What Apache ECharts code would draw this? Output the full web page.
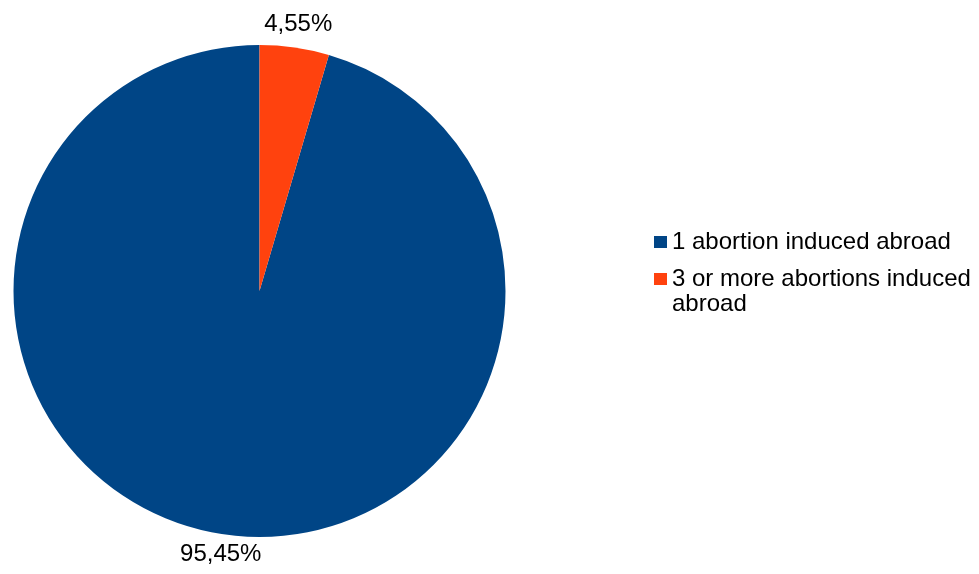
<!DOCTYPE html>
<html>
<head>
<meta charset="utf-8">
<title>Abortions induced abroad</title>
<script src="https://cdn.jsdelivr.net/npm/echarts@6/dist/echarts.min.js"></script>
<style>
  html, body { margin: 0; padding: 0; background: #ffffff; }
  #chart { width: 979px; height: 574px; }
</style>
</head>
<body>
<div id="chart"></div>
<script>
// Categories and their shares (percent)
const categories = ['1 abortion induced abroad', '3 or more abortions induced abroad'];
const shares = [95.45, 4.55];
const colors = ['#004586', '#ff420e'];

const FONT = '"Liberation Sans", Arial, sans-serif';
const CX = 259.5, CY = 291, R = 246;

const pieData = categories.map((name, i) => ({ name: name, value: shares[i] }));

// Percent text in local number format: 4,55%
const fmtPct = v => v.toFixed(2).replace('.', ',') + '%';

const chart = echarts.init(document.getElementById('chart'), null, { renderer: 'canvas' });

const legendText = {
  fontFamily: FONT,
  fontSize: 24,
  color: '#000000',
  lineHeight: 25
};

const legendBase = {
  orient: 'vertical',
  left: 654,
  padding: 0,
  itemWidth: 13,
  itemHeight: 12,
  itemGap: 10,
  itemTextGap: 16,
  icon: 'rect',
  selectedMode: false,
  textStyle: legendText
};

chart.setOption({
  backgroundColor: '#ffffff',
  animation: false,
  color: colors,
  legend: [
    Object.assign({}, legendBase, {
      data: [categories[0]],
      top: 229.5
    }),
    Object.assign({}, legendBase, {
      data: [categories[1]],
      top: 241.5,
      // leading blank line keeps the first text line level with the swatch;
      // the last word wraps onto its own line
      formatter: name => '\n' + name.replace(/ (\S+)$/, '\n$1')
    })
  ],
  series: [
    {
      type: 'pie',
      center: [CX, CY],
      radius: [0, R],
      startAngle: 90,
      clockwise: false,
      label: { show: false },
      labelLine: { show: false },
      emphasis: { disabled: true },
      itemStyle: { borderWidth: 0 },
      data: pieData
    },
    {
      // transparent ring carrying the percentage labels just outside the pie
      type: 'pie',
      center: [CX, CY],
      radius: [R + 12, R + 34],
      startAngle: 90,
      clockwise: false,
      silent: true,
      legendHoverLink: false,
      emphasis: { disabled: true },
      itemStyle: { color: 'rgba(0,0,0,0)', borderWidth: 0 },
      label: {
        show: true,
        position: 'inside',
        fontFamily: FONT,
        fontSize: 24,
        color: '#000000',
        formatter: p => fmtPct(p.value)
      },
      labelLine: { show: false },
      data: pieData.map((d, i) => ({
        name: d.name,
        value: d.value,
        label: { offset: i === 0 ? [0, -6] : [0, 3] }
      }))
    }
  ]
});
</script>
</body>
</html>
